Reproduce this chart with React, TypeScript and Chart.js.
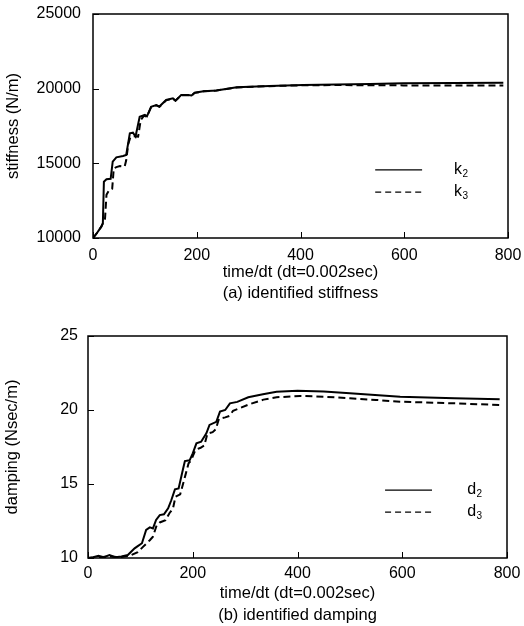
import { useEffect, useRef } from "react";
import { Chart, registerables } from "chart.js";

Chart.register(...registerables);

// ---------- data ----------
const timeTicks = [0, 200, 400, 600, 800];
const stiffTicks = [10000, 15000, 20000, 25000];
const dampTicks = [10, 15, 20, 25];

const stiffNames = ["k2", "k3"];
const dampNames = ["d2", "d3"];

const k2X = [0, 8, 16, 19, 21, 26, 34, 38, 45, 58, 64, 71, 77, 82, 90, 100, 104, 112, 122, 128, 141, 154, 159, 170, 183, 190, 196, 213, 238, 277, 340, 405, 534, 598, 791];
const k2Y = [10000, 10350, 10760, 10980, 13770, 13930, 13960, 15110, 15400, 15490, 15560, 17010, 17050, 16800, 18120, 18240, 18150, 18790, 18900, 18800, 19240, 19350, 19200, 19580, 19580, 19550, 19730, 19820, 19880, 20090, 20180, 20250, 20310, 20360, 20400];

const k3X = [0, 8, 16, 19, 23, 26, 31, 37, 40, 45, 52, 61, 64, 68, 72, 78, 87, 92, 98, 104, 112, 122, 128, 141, 154, 159, 170, 183, 190, 196, 213, 238, 277, 340, 405, 470, 534, 598, 791];
const k3Y = [10000, 10350, 10760, 10980, 11200, 12900, 13200, 13300, 14650, 14750, 14820, 14780, 15200, 16300, 16750, 16820, 16790, 17900, 18180, 18130, 18760, 18880, 18790, 19220, 19330, 19190, 19560, 19570, 19540, 19720, 19820, 19880, 20080, 20170, 20230, 20240, 20230, 20220, 20210];

const d2X = [0, 10, 20, 30, 41, 52, 64, 76, 89, 95, 103, 111, 118, 124, 130, 137, 145, 153, 159, 166, 173, 181, 185, 194, 200, 207, 216, 226, 232, 245, 252, 262, 271, 285, 306, 334, 360, 400, 450, 500, 596, 700, 786];
const d2Y = [10.0, 10.05, 10.15, 10.05, 10.2, 10.05, 10.1, 10.2, 10.65, 10.8, 11.0, 11.9, 12.07, 12.0, 12.57, 12.9, 12.95, 13.36, 13.9, 14.64, 14.7, 15.95, 16.55, 16.6, 17.07, 17.75, 17.86, 18.43, 18.99, 19.2, 19.89, 20.0, 20.45, 20.55, 20.86, 21.06, 21.24, 21.3, 21.25, 21.13, 20.9, 20.8, 20.72];

const d3X = [0, 20, 40, 60, 80, 95, 105, 118, 124, 131, 137, 148, 156, 162, 167, 176, 186, 192, 197, 205, 215, 222, 228, 238, 244, 250, 262, 270, 277, 290, 309, 335, 360, 405, 450, 500, 550, 596, 700, 786];
const d3Y = [10.0, 10.05, 10.1, 10.05, 10.15, 10.4, 10.75, 11.2, 11.44, 12.2, 12.4, 12.55, 13.06, 13.3, 14.14, 14.3, 15.6, 16.4, 16.6, 17.3, 17.45, 17.6, 18.4, 18.5, 18.7, 19.4, 19.5, 19.6, 19.95, 20.13, 20.4, 20.7, 20.86, 20.95, 20.9, 20.79, 20.68, 20.56, 20.45, 20.34];

// ---------- helpers ----------
const FONT = "'Liberation Sans', Arial, sans-serif";
const zip = (xs: number[], ys: number[]) => xs.map((x, i) => ({ x, y: ys[i] }));

// box frame + inward tick marks taken from the scales' own ticks
const framePlugin = {
  id: "frame",
  afterDraw(chart: any) {
    const { ctx, chartArea: a } = chart;
    const xs = chart.scales.x;
    const ys = chart.scales.y;
    ctx.save();
    ctx.strokeStyle = "#000";
    ctx.lineWidth = 1;
    ctx.beginPath();
    xs.ticks.forEach((t: any) => {
      const px = Math.round(xs.getPixelForValue(t.value)) + 0.5;
      ctx.moveTo(px, a.bottom);
      ctx.lineTo(px, a.bottom - 6);
    });
    ys.ticks.forEach((t: any) => {
      const py = Math.round(ys.getPixelForValue(t.value)) + 0.5;
      ctx.moveTo(a.left, py);
      ctx.lineTo(a.left + 6, py);
    });
    ctx.stroke();
    ctx.lineWidth = 1.5;
    ctx.strokeRect(a.left, a.top, a.right - a.left, a.bottom - a.top);
    ctx.restore();
  },
};

function makeLegendPlugin(lx0: number, lx1: number, tx: number, rows: number[]) {
  return {
    id: "innerLegend",
    afterDraw(chart: any) {
      const { ctx, chartArea: a } = chart;
      const w = a.right - a.left;
      const h = a.bottom - a.top;
      chart.data.datasets.forEach((ds: any, i: number) => {
        const y = a.top + rows[i] * h;
        ctx.save();
        ctx.strokeStyle = "#000";
        ctx.lineWidth = 1.2;
        ctx.setLineDash(ds.borderDash ? [6, 4] : []);
        ctx.beginPath();
        ctx.moveTo(a.left + lx0 * w, y);
        ctx.lineTo(a.left + lx1 * w, y);
        ctx.stroke();
        ctx.setLineDash([]);
        ctx.fillStyle = "#000";
        ctx.textBaseline = "middle";
        ctx.textAlign = "left";
        const label: string = ds.label;
        const base = label.slice(0, 1);
        const sub = label.slice(1);
        const x0 = a.left + tx * w;
        ctx.font = `16px ${FONT}`;
        ctx.fillText(base, x0, y);
        const bw = ctx.measureText(base).width;
        ctx.font = `10px ${FONT}`;
        ctx.fillText(sub, x0 + bw + 0.5, y + 4);
        ctx.restore();
      });
    },
  };
}

function makeConfig(opts: any) {
  return {
    type: "line" as const,
    data: {
      datasets: [
        {
          label: opts.names[0],
          data: opts.s1,
          borderColor: "#000",
          borderWidth: 2,
          pointRadius: 0,
          fill: false,
          tension: 0,
        },
        {
          label: opts.names[1],
          data: opts.s2,
          borderColor: "#000",
          borderWidth: 2,
          borderDash: [7, 4],
          pointRadius: 0,
          fill: false,
          tension: 0,
        },
      ],
    },
    options: {
      animation: false as const,
      responsive: false,
      events: [],
      layout: { padding: opts.pad },
      plugins: { legend: { display: false }, tooltip: { enabled: false } },
      scales: {
        x: {
          type: "linear" as const,
          min: 0,
          max: 800,
          afterBuildTicks: (s: any) => {
            s.ticks = timeTicks.map((v) => ({ value: v }));
          },
          afterFit: (s: any) => {
            s.height = opts.xHeight;
          },
          border: { display: false },
          grid: { display: false, drawTicks: true, tickLength: opts.xLabelGap },
          ticks: {
            padding: 0,
            color: "#000",
            font: { family: FONT, size: 16 },
            maxRotation: 0,
            autoSkip: false,
            callback: (v: any) => String(v),
          },
          title: {
            display: true,
            text: opts.xTitle,
            color: "#000",
            font: { family: FONT, size: 16.5, lineHeight: `${opts.xTitleLH}px` },
            padding: { top: 0, bottom: opts.xTitlePadBottom },
          },
        },
        y: {
          type: "linear" as const,
          min: opts.yMin,
          max: opts.yMax,
          afterBuildTicks: (s: any) => {
            s.ticks = opts.yTicks.map((v: number) => ({ value: v }));
          },
          afterFit: (s: any) => {
            s.width = opts.yWidth;
          },
          border: { display: false },
          grid: { display: false, drawTicks: true, tickLength: opts.yLabelGap },
          ticks: {
            padding: 0,
            color: "#000",
            font: { family: FONT, size: 16 },
            autoSkip: false,
            callback: (v: any) => String(v),
          },
          title: {
            display: true,
            text: opts.yTitle,
            color: "#000",
            font: { family: FONT, size: 16.5 },
            padding: { top: opts.yTitlePadTop, bottom: 0 },
          },
        },
      },
    },
    plugins: [framePlugin, opts.legend],
  };
}

export default function App() {
  const ref1 = useRef<HTMLCanvasElement>(null);
  const ref2 = useRef<HTMLCanvasElement>(null);

  useEffect(() => {
    const cfg1 = makeConfig({
      s1: zip(k2X, k2Y),
      s2: zip(k3X, k3Y),
      names: stiffNames,
      yTicks: stiffTicks,
      yMin: 10000,
      yMax: 25000,
      yTitle: "stiffness (N/m)",
      xTitle: ["time/dt (dt=0.002sec)", "(a) identified stiffness"],
      pad: { left: 0, right: 16, top: 14, bottom: 0 },
      xHeight: 67,
      yWidth: 93,
      xLabelGap: 8.4,
      yLabelGap: 12,
      xTitleLH: 21,
      xTitlePadBottom: 1.5,
      yTitlePadTop: 4,
      legend: makeLegendPlugin(0.68, 0.793, 0.87, [0.696, 0.795]),
    });
    const cfg2 = makeConfig({
      s1: zip(d2X, d2Y),
      s2: zip(d3X, d3Y),
      names: dampNames,
      yTicks: dampTicks,
      yMin: 10,
      yMax: 25,
      yTitle: "damping (Nsec/m)",
      xTitle: ["time/dt (dt=0.002sec)", "(b) identified damping"],
      pad: { left: 0, right: 17, top: 31, bottom: 0 },
      xHeight: 68,
      yWidth: 88,
      xLabelGap: 6.4,
      yLabelGap: 10,
      xTitleLH: 22,
      xTitlePadBottom: 0,
      yTitlePadTop: 2.6,
      legend: makeLegendPlugin(0.709, 0.821, 0.905, [0.694, 0.793]),
    });
    const c1 = new Chart(ref1.current as HTMLCanvasElement, cfg1 as any);
    const c2 = new Chart(ref2.current as HTMLCanvasElement, cfg2 as any);
    return () => {
      c1.destroy();
      c2.destroy();
    };
  }, []);

  return (
    <div style={{ position: "absolute", left: 0, top: 0, width: 524, height: 626, background: "#fff" }}>
      <canvas ref={ref1} width={524} height={305} style={{ display: "block" }} />
      <canvas ref={ref2} width={524} height={321} style={{ display: "block" }} />
    </div>
  );
}
